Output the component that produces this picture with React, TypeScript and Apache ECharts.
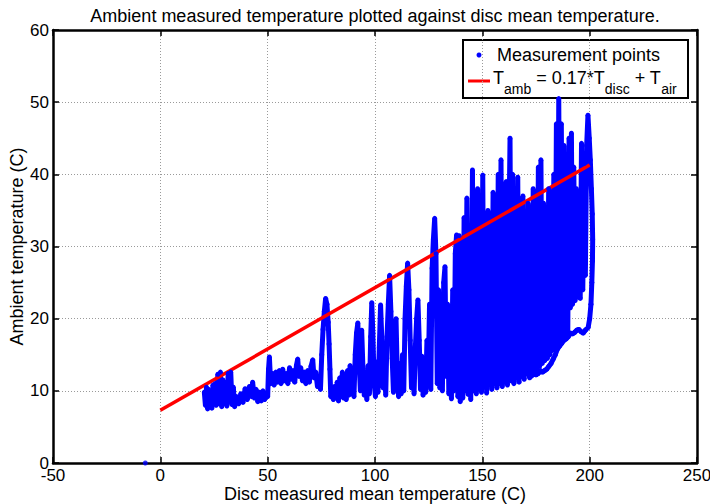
import React, { useEffect, useRef } from "react";
import * as echarts from "echarts";

const lowBand: [number, number][] = [
  [20.5, 9.8], [21, 8], [21.5, 10.5], [22, 7.5], [22.5, 10.2], [23, 8.2], [23.5, 9.5], [24, 7.6],
  [24.5, 10.8], [25, 8.4], [25.5, 11], [26, 8], [26.8, 12.3], [27.5, 8.2], [28, 12.6], [28.6, 7.8],
  [29.2, 11.5], [29.8, 8.3], [30.5, 10], [31, 7.9], [31.6, 12.4], [32.2, 8.5], [32.8, 12.6], [33.4, 8.1],
  [34, 10.5], [34.6, 7.8], [35.5, 9.2], [36.5, 8.2], [37.5, 9.6], [38.5, 8.4], [39.5, 10.3], [40.5, 8.8],
  [41.5, 10.6], [42.5, 9.2], [43, 11.2], [43.8, 9], [44.6, 10.2], [45.4, 8.5], [46.2, 9.8], [47, 8.6],
  [47.8, 10], [48.6, 8.8], [49.4, 9.6], [50, 9.2], [50.4, 13], [50.8, 14.7], [51.4, 11], [52.2, 12.4],
  [53, 10.8], [53.8, 12.6], [54.6, 11.2], [55.4, 12.8], [56.2, 11], [57, 13], [57.8, 11.4], [58.6, 12.4],
  [59.4, 11], [60.2, 13.2], [61, 11.6], [61.8, 12.8], [62.6, 11.2], [63.4, 13.5], [64, 14.4], [64.6, 12],
  [65.4, 13.2], [66.2, 11.4], [67, 12.6], [67.8, 11], [68.6, 12.8], [69.4, 11.2], [70.2, 13.4], [71, 14.3],
  [71.6, 11.8], [72.4, 12.6], [73.2, 10.6], [74, 12], [74.6, 10.2], [75.2, 15], [75.8, 18.5], [76.4, 21],
  [77, 22.8], [77.6, 22], [78.2, 19.5], [78.6, 16.5], [79, 13], [79.4, 9.2], [80, 10.4]
];

const midBand: [number, number][] = [
  [80.6, 8.8], [81.2, 10.6], [81.8, 9], [82.4, 11.2], [83, 8.6], [83.6, 11.8], [84.2, 9.2], [84.8, 12.6],
  [85.4, 9], [86, 11.4], [86.6, 8.8], [87.2, 12.8], [87.8, 9.4], [88.4, 13.5], [89, 9.6], [89.6, 12.2],
  [90.2, 9.2], [90.8, 15], [91.4, 18], [92, 19.4], [92.6, 14], [93.2, 10], [93.8, 18.4], [94.4, 13],
  [95, 9.4], [95.6, 12.4], [96.2, 8.8], [96.8, 13.5], [97.4, 9.6], [98, 17.5], [98.5, 22.2], [99, 18],
  [99.6, 11], [100.2, 9.2], [100.8, 14], [101.4, 9.8], [102, 16], [102.6, 21.9], [103.2, 17], [103.8, 10.4],
  [104.4, 13.6], [105, 9.4], [105.6, 17.5], [106.2, 22], [106.8, 26], [107.4, 21], [108, 14.5], [108.6, 9.8],
  [109.2, 15.6], [109.8, 20], [110.4, 12], [111, 9.2], [111.6, 13.8], [112.2, 9.6], [112.8, 15], [113.4, 10],
  [114, 20], [114.6, 24.5], [115.2, 27.7], [115.8, 24], [116.4, 17], [117, 10.4], [117.6, 14.2], [118.2, 9.6],
  [118.8, 16], [119.4, 20], [120, 22.6], [120.6, 17], [121.2, 10.2], [121.8, 14.8], [122.4, 9.4], [123, 12.6],
  [123.6, 9.8], [124.2, 17], [124.8, 12], [125.4, 22], [126, 10.2], [126.6, 27], [127.2, 31], [127.8, 33.9],
  [128.4, 29], [129, 11], [129.6, 24], [130.2, 10.4], [130.8, 20], [131.4, 10], [132, 25], [132.6, 27.2],
  [133.2, 12], [133.8, 22], [134.4, 9.6], [135, 18], [135.6, 8.9], [136.2, 24], [136.8, 10], [137.4, 29],
  [138, 31.6], [138.6, 9.2]
];

const denseBand: [number, number][] = [
  [139.2, 31.5], [139.7, 8.5], [140.3, 27], [140.9, 9], [141.5, 34], [142.1, 10], [142.8, 36.7], [143.4, 9.5],
  [144, 24], [144.6, 8.8], [145.4, 40.6], [146, 10], [146.6, 30], [147.2, 9.6], [147.8, 38], [148.4, 10.2],
  [149, 26], [149.6, 9.8], [150.2, 39.9], [150.8, 10.5], [151.4, 28], [152, 9.7], [152.6, 35], [153.2, 10.8],
  [153.8, 31], [154.4, 10.2], [155, 37.5], [155.6, 11], [156.2, 29], [156.8, 10.4], [157.4, 40], [158, 11],
  [158.7, 42], [159.3, 10.6], [159.9, 32], [160.5, 11.2], [161.1, 39], [161.7, 10.8], [162.3, 30], [162.9, 45],
  [163.5, 11.4], [164.1, 40], [164.7, 11], [165.3, 27], [165.9, 11.8], [166.5, 39.6], [167.1, 11.2], [167.7, 34],
  [168.3, 12], [168.9, 37], [169.5, 11.6], [170.1, 28], [170.7, 12.4], [171.3, 36], [171.9, 12], [172.5, 31],
  [173.1, 12.8], [173.7, 38], [174.3, 12.3], [174.9, 33], [175.5, 13], [176.1, 41], [176.7, 13.4], [177.3, 42],
  [177.9, 13.8], [178.5, 36], [179.1, 14.2], [179.7, 30], [180.3, 14.5], [180.9, 38], [181.5, 15], [182.1, 33],
  [182.7, 15.6], [183.3, 40], [183.9, 16], [184.5, 47], [185.1, 16.5], [185.6, 50.5]
];

const rightBand: [number, number][] = [
  [186.2, 17], [186.8, 47], [187.4, 17.2], [188, 44], [188.6, 17.5], [189.2, 42], [189.8, 17.8], [190.4, 45],
  [191, 21.5], [191.5, 45.7], [192, 22], [192.6, 41], [193.2, 22.5], [193.8, 38], [194.4, 23], [195, 36],
  [195.6, 22.8], [196.2, 44.3], [196.8, 24], [197.4, 41.5], [198, 26], [198.6, 44], [199.2, 48.2], [199.8, 45],
  [200.3, 42], [200.8, 38], [201.2, 34.5], [201.4, 31], [201.3, 28], [201, 25], [200.6, 22], [200, 20],
  [199.3, 18.8], [198, 18.4], [197, 18], [196, 18.2], [195, 18.5], [194, 18.4], [193, 18.1], [192, 17.9],
  [191, 18], [190, 17.5], [189, 17.2], [188, 17], [187, 16.6], [186, 16.2], [185, 15.8], [184, 15],
  [183, 14.4], [182, 13.8], [181, 13.4], [180, 13], [179, 12.8], [178, 12.6], [177, 12.8], [176, 12.4],
  [175, 12.2], [174, 12.4], [173, 12.1], [172, 11.8]
];

const outlierPoints: [number, number][] = [[-7, 0]];

// Fitted line T_amb = 0.17*T_disc + T_air
const fitX = [0, 200];
const fitY = [7.3, 41.3];

const xTicks = { min: -50, max: 250, interval: 50 };
const yTicks = { min: 0, max: 60, interval: 10 };

const FONT = "'Liberation Sans', Arial, Helvetica, sans-serif";

export default function App() {
  const ref = useRef<HTMLDivElement>(null);

  useEffect(() => {
    if (!ref.current) return;
    const chart = echarts.init(ref.current, null, { renderer: "svg" });

    const trace = [...lowBand, ...midBand, ...denseBand, ...rightBand];
    const fitData = fitX.map((x, i) => [x, fitY[i]]);

    const gridLine = { show: true, lineStyle: { color: "#9a9a9a", width: 1, type: [1, 2] as any } };
    const tickStyle = { show: true, inside: true, length: 6, lineStyle: { color: "#000", width: 1.5 } };
    const axisLine = { show: true, onZero: false, lineStyle: { color: "#000", width: 2.5 } };

    chart.setOption({
      animation: false,
      backgroundColor: "#fff",
      title: {
        text: "Ambient measured temperature plotted against disc mean temperature.",
        left: 370,
        top: 2,
        textAlign: "center",
        textStyle: { fontFamily: FONT, fontSize: 18, fontWeight: "normal", color: "#000" }
      },
      grid: { left: 53, right: 13, top: 30, bottom: 41, containLabel: false, outerBoundsMode: "none" },
      xAxis: [
        {
          type: "value",
          ...xTicks,
          position: "bottom",
          axisLine,
          axisTick: tickStyle,
          splitLine: gridLine,
          axisLabel: { fontFamily: FONT, fontSize: 17, color: "#000", margin: 4 },
          name: "Disc measured mean temperature (C)",
          nameLocation: "middle",
          nameGap: 22,
          nameMoveOverlap: false,
          nameTextStyle: { fontFamily: FONT, fontSize: 18, color: "#000" }
        },
        {
          type: "value",
          ...xTicks,
          position: "top",
          axisLine,
          axisTick: tickStyle,
          splitLine: { show: false },
          axisLabel: { show: false }
        }
      ],
      yAxis: [
        {
          type: "value",
          ...yTicks,
          position: "left",
          axisLine,
          axisTick: tickStyle,
          splitLine: gridLine,
          axisLabel: { fontFamily: FONT, fontSize: 17, color: "#000", margin: 4 },
          name: "Ambient temperature (C)",
          nameLocation: "middle",
          nameGap: 27,
          nameMoveOverlap: false,
          nameTextStyle: { fontFamily: FONT, fontSize: 18, color: "#000" }
        },
        {
          type: "value",
          ...yTicks,
          position: "right",
          axisLine,
          axisTick: tickStyle,
          splitLine: { show: false },
          axisLabel: { show: false }
        }
      ],
      series: [
        {
          name: "Measurement points",
          type: "line",
          xAxisIndex: 0,
          yAxisIndex: 0,
          data: trace,
          showSymbol: true,
          symbol: "circle",
          symbolSize: 5,
          itemStyle: { color: "#0000ff" },
          lineStyle: { color: "#0000ff", width: 5 },
          silent: true
        },
        {
          name: "Measurement points",
          type: "scatter",
          xAxisIndex: 0,
          yAxisIndex: 0,
          data: outlierPoints,
          symbolSize: 5,
          itemStyle: { color: "#0000ff" },
          silent: true
        },
        {
          name: "Fit",
          type: "line",
          xAxisIndex: 0,
          yAxisIndex: 0,
          data: fitData,
          showSymbol: false,
          lineStyle: { color: "#ff0000", width: 3.5 },
          silent: true
        }
      ],
      graphic: [
        {
          type: "group",
          z: 100,
          children: [
            {
              type: "rect",
              shape: { x: 463, y: 40, width: 225, height: 58 },
              style: { fill: "#fff", stroke: "#000", lineWidth: 2 }
            },
            {
              type: "circle",
              shape: { cx: 479, cy: 55, r: 2.5 },
              style: { fill: "#0000ff" }
            },
            {
              type: "text",
              x: 497,
              y: 55,
              style: {
                text: "Measurement points",
                fontFamily: FONT,
                fontSize: 18,
                fill: "#000",
                verticalAlign: "middle",
                align: "left"
              }
            },
            {
              type: "line",
              shape: { x1: 468, y1: 81, x2: 490, y2: 81 },
              style: { stroke: "#ff0000", lineWidth: 3 }
            },
            {
              type: "text",
              x: 493,
              y: 78,
              style: {
                text: "{n|T}{s|amb}{n| = 0.17*T}{s|disc}{n| + T}{s|air}",
                fontFamily: FONT,
                fill: "#000",
                verticalAlign: "middle",
                align: "left",
                rich: {
                  n: { fontFamily: FONT, fontSize: 18, fill: "#000" },
                  s: { fontFamily: FONT, fontSize: 14, fill: "#000", padding: [22, 0, 0, 0] }
                }
              }
            }
          ]
        }
      ]
    });

    return () => chart.dispose();
  }, []);

  return (
    <div
      ref={ref}
      style={{ position: "fixed", left: 0, top: 0, width: 710, height: 504, background: "#fff" }}
    />
  );
}
